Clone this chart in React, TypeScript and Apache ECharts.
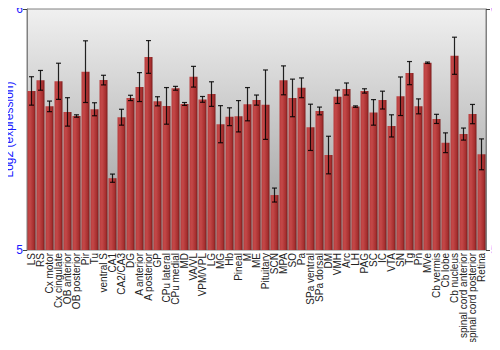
import React, { useEffect, useRef } from "react";
import * as echarts from "echarts";

const categories = [
  "LS", "RS", "Cx motor", "Cx cingulate", "OB anterior", "OB posterior", "Pir", "Tu",
  "ventral S", "CA1", "CA2/CA3", "DG", "A anterior", "A posterior", "GP", "CPu lateral",
  "CPu medial", "MD", "VA/VL", "VPM/VPL", "LG", "MG", "Hb", "Pineal", "M", "ME",
  "Pituitary", "SCN", "MPA", "SO", "Pa", "SPa ventral", "SPa dorsal", "DM", "VMH", "Arc",
  "LH", "PAG", "SC", "IC", "VTA", "SN", "Tg", "Pn", "MVe", "Cb vermis", "Cb lobe",
  "Cb nucleus", "spinal cord anterior", "spinal cord posterior", "Retina",
];

const means = [
  5.660, 5.704, 5.596, 5.700, 5.573, 5.556, 5.740, 5.584,
  5.705, 5.298, 5.551, 5.631, 5.676, 5.801, 5.617, 5.598,
  5.671, 5.606, 5.719, 5.625, 5.647, 5.522, 5.553, 5.555, 5.605, 5.622,
  5.603, 5.228, 5.704, 5.631, 5.673, 5.509, 5.577, 5.394, 5.636, 5.668,
  5.595, 5.660, 5.571, 5.622, 5.515, 5.638, 5.734, 5.596, 5.777, 5.544, 5.445,
  5.806, 5.481, 5.564, 5.397,
];

const errors = [
  0.059, 0.041, 0.022, 0.075, 0.059, 0.005, 0.128, 0.027,
  0.020, 0.017, 0.033, 0.011, 0.060, 0.068, 0.019, 0.076,
  0.008, 0.006, 0.043, 0.012, 0.051, 0.077, 0.037, 0.065, 0.069, 0.021,
  0.144, 0.029, 0.060, 0.078, 0.041, 0.096, 0.016, 0.078, 0.028, 0.025,
  0.003, 0.009, 0.053, 0.037, 0.046, 0.080, 0.048, 0.031, 0.003, 0.019, 0.041,
  0.077, 0.025, 0.040, 0.064,
];

const yTicks = { min: 5, max: 6, interval: 1 };
const yAxisTitle = "Log2 (expression)";

export default function App() {
  const ref = useRef<HTMLDivElement>(null);
  useEffect(() => {
    if (!ref.current) return;
    const chart = echarts.init(ref.current, undefined, { renderer: "svg" });
    const errData = categories.map((c, i) => [i, means[i] - errors[i], means[i] + errors[i]]);
    const axisCommon = {
      type: "value" as const,
      min: yTicks.min,
      max: yTicks.max,
      interval: yTicks.interval,
      axisLine: { show: true, lineStyle: { color: "#808080", width: 1 } },
      axisTick: { show: true, length: 4, lineStyle: { color: "#404040" } },
      splitLine: { show: false },
    };
    chart.setOption({
      animation: false,
      grid: {
        left: 27,
        right: 14,
        top: 9,
        bottom: 100,
        outerBoundsMode: "none",
        containLabel: false,
        show: true,
        borderColor: "#808080",
        borderWidth: 1,
        backgroundColor: new echarts.graphic.LinearGradient(0, 0, 0, 1, [
          { offset: 0, color: "#f0f0f0" },
          { offset: 1, color: "#989898" },
        ]),
      },
      graphic: [
        {
          type: "text",
          x: 9,
          y: 129.5,
          rotation: Math.PI / 2,
          style: {
            text: yAxisTitle,
            fill: "#1a1aff",
            fontSize: 12,
            fontFamily: "Liberation Sans",
            align: "center",
            verticalAlign: "middle",
          },
        },
      ],
      xAxis: {
        type: "category",
        data: categories,
        axisLine: { show: false },
        axisTick: { show: false },
        axisLabel: {
          interval: 0,
          rotate: 90,
          fontSize: 10,
          fontFamily: "Liberation Sans",
          color: "#222",
          margin: 3,
        },
      },
      yAxis: [
        {
          ...axisCommon,
          position: "left",
          axisLabel: {
            color: "#1a1aff", fontSize: 12, fontFamily: "Liberation Sans",
            margin: 4, align: "right", showMinLabel: true, showMaxLabel: true,
          },
        },
        {
          ...axisCommon,
          position: "right",
          axisLabel: {
            color: "#1a1aff", fontSize: 12, fontFamily: "Liberation Sans",
            margin: 5, align: "left", showMinLabel: true, showMaxLabel: true,
          },
        },
      ],
      series: [
        {
          type: "bar",
          data: means,
          barCategoryGap: "11%",
          itemStyle: {
            color: new echarts.graphic.LinearGradient(0, 0, 1, 0, [
              { offset: 0, color: "#b83c3c" },
              { offset: 0.3, color: "#c44848" },
              { offset: 0.75, color: "#a83030" },
              { offset: 1, color: "#7c1c1c" },
            ]),
          },
        },
        {
          type: "custom",
          data: errData,
          encode: { x: 0, y: [1, 2] },
          z: 5,
          renderItem: (params: any, api: any) => {
            const x = api.value(0);
            const lo = api.coord([x, api.value(1)]);
            const hi = api.coord([x, api.value(2)]);
            const half = 2.5;
            const style = { stroke: "rgba(0,0,0,0.85)", lineWidth: 1.2 };
            return {
              type: "group",
              children: [
                { type: "line", shape: { x1: hi[0], y1: hi[1], x2: lo[0], y2: lo[1] }, style },
                { type: "line", shape: { x1: hi[0] - half, y1: hi[1], x2: hi[0] + half, y2: hi[1] }, style },
                { type: "line", shape: { x1: lo[0] - half, y1: lo[1], x2: lo[0] + half, y2: lo[1] }, style },
              ],
            };
          },
        },
      ],
    });
    return () => chart.dispose();
  }, []);
  return <div ref={ref} style={{ width: 500, height: 350, margin: -8 }} />;
}
